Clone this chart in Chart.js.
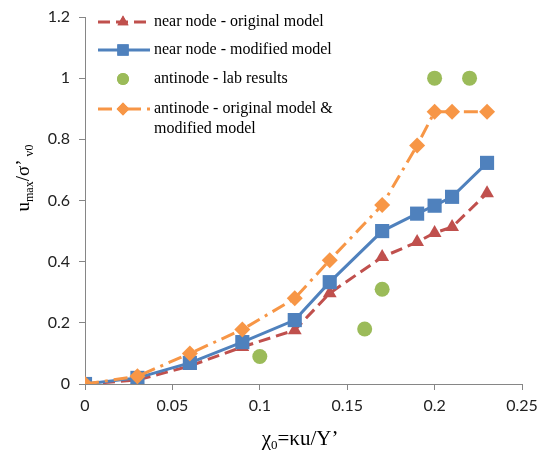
<!DOCTYPE html>
<html>
<head>
<meta charset="utf-8">
<script src="https://cdn.jsdelivr.net/npm/chart.js@4"></script>
<style>
  html, body { margin: 0; padding: 0; background: #fff; }
  #wrap { width: 541px; height: 452px; }
</style>
</head>
<body>
<div id="wrap"><canvas id="chart"></canvas></div>
<script>
// chi_0 values used by the model runs
const chi = [0, 0.03, 0.06, 0.09, 0.12, 0.14, 0.17, 0.19, 0.2, 0.21, 0.23];
const nearOriginal = [0, 0.013, 0.059, 0.121, 0.176, 0.297, 0.415, 0.464, 0.494, 0.513, 0.624];
const nearModified = [0, 0.02, 0.069, 0.137, 0.209, 0.333, 0.5, 0.557, 0.583, 0.612, 0.723];
const antinodeModel = [0, 0.025, 0.1, 0.178, 0.28, 0.405, 0.585, 0.78, 0.89, 0.89, 0.89];
// lab measurements at the antinode
const labChi = [0.1, 0.16, 0.17, 0.2, 0.22];
const labValues = [0.09, 0.18, 0.31, 1.0, 1.0];

const seriesNames = [
  'near node - original model',
  'near node - modified model',
  'antinode - lab results',
  ['antinode - original model &', 'modified model']
];

const RED = '#C0504D', BLUE = '#4F81BD', GREEN = '#9BBB59', ORANGE = '#F79646';
const AXIS = '#868686';

const pts = (xs, ys) => xs.map((x, i) => ({ x: x, y: ys[i] }));
const plain = v => String(+Number(v).toFixed(2));

const datasets = [
  {
    label: seriesNames[0], data: pts(chi, nearOriginal),
    borderColor: RED, backgroundColor: RED, borderWidth: 3, borderDash: [12, 6],
    pointStyle: 'triangle', pointRadius: 8, pointBorderWidth: 0, order: 2
  },
  {
    label: seriesNames[1], data: pts(chi, nearModified),
    borderColor: BLUE, backgroundColor: BLUE, borderWidth: 3,
    pointStyle: 'rect', pointRadius: 10, pointBorderWidth: 0, order: 1
  },
  {
    label: seriesNames[2], data: pts(labChi, labValues),
    borderColor: GREEN, backgroundColor: GREEN, showLine: false,
    pointStyle: 'circle', pointRadius: 7.5, pointBorderWidth: 0, order: 3
  },
  {
    label: seriesNames[3].join(' '), data: pts(chi, antinodeModel),
    borderColor: ORANGE, backgroundColor: ORANGE, borderWidth: 3, borderDash: [14, 6, 3, 6],
    pointStyle: 'rectRot', pointRadius: 8, pointBorderWidth: 0, order: 0
  }
];

// legend sits inside the plot, top left, with line + marker samples
const insideLegend = {
  id: 'insideLegend',
  afterDraw(chart) {
    const ctx = chart.ctx;
    const rows = [22, 50, 79, 109];
    const x0 = 98, x1 = 150, xm = 123, tx = 154;
    ctx.save();
    datasets.forEach((ds, i) => {
      const y = rows[i];
      if (ds.showLine !== false) {
        ctx.beginPath();
        ctx.setLineDash(ds.borderDash || []);
        ctx.strokeStyle = ds.borderColor;
        ctx.lineWidth = ds.borderWidth;
        ctx.moveTo(x0, y);
        ctx.lineTo(x1, y);
        ctx.stroke();
        ctx.setLineDash([]);
      }
      ctx.fillStyle = ds.backgroundColor;
      Chart.helpers.drawPoint(ctx, { pointStyle: ds.pointStyle, radius: ds.pointRadius * 0.8, borderWidth: 0 }, xm, y);
      ctx.fill();
      ctx.fillStyle = '#000';
      ctx.font = '16px "Liberation Serif", "Times New Roman", serif';
      ctx.textBaseline = 'middle';
      ctx.textAlign = 'left';
      const lines = Array.isArray(seriesNames[i]) ? seriesNames[i] : [seriesNames[i]];
      lines.forEach((t, j) => ctx.fillText(t, tx, y + j * 20));
    });
    ctx.restore();
  }
};

// draws a run of text pieces, some of them as subscripts
function drawPieces(ctx, pieces, x, y) {
  let cx = x;
  pieces.forEach(p => {
    ctx.font = p.size + 'px "Liberation Serif", "Times New Roman", serif';
    ctx.fillText(p.t, cx, y + (p.dy || 0));
    cx += ctx.measureText(p.t).width;
  });
}
function piecesWidth(ctx, pieces) {
  let w = 0;
  pieces.forEach(p => {
    ctx.font = p.size + 'px "Liberation Serif", "Times New Roman", serif';
    w += ctx.measureText(p.t).width;
  });
  return w;
}

const axisTitles = {
  id: 'axisTitles',
  afterDraw(chart) {
    const ctx = chart.ctx;
    ctx.save();
    ctx.fillStyle = '#000';
    ctx.textBaseline = 'alphabetic';
    ctx.textAlign = 'left';

    const xt = [
      { t: 'χ', size: 21 }, { t: '0', size: 13, dy: 4 },
      { t: '=κu/Y’', size: 21 }
    ];
    const xw = piecesWidth(ctx, xt);
    drawPieces(ctx, xt, 300 - xw / 2, 445);

    const yt = [
      { t: 'u', size: 19 }, { t: 'max', size: 12, dy: 4 },
      { t: '/σ’', size: 19 }, { t: ' v0', size: 12, dy: 4 }
    ];
    const yw = piecesWidth(ctx, yt);
    ctx.translate(29, 178);
    ctx.rotate(-Math.PI / 2);
    drawPieces(ctx, yt, -yw / 2, 0);
    ctx.restore();
  }
};

new Chart(document.getElementById('chart'), {
  type: 'line',
  data: { datasets: datasets },
  options: {
    responsive: true,
    maintainAspectRatio: false,
    animation: false,
    layout: { padding: { top: 17, right: 19, left: 0, bottom: 0 } },
    plugins: { legend: { display: false }, tooltip: { enabled: false } },
    scales: {
      x: {
        type: 'linear', min: 0, max: 0.25,
        ticks: { stepSize: 0.05, color: '#222', font: { family: 'Lato', size: 16 }, padding: 6, maxRotation: 0, callback: plain },
        grid: { display: true, drawOnChartArea: false, drawTicks: true, tickLength: 6, color: AXIS },
        border: { color: AXIS, width: 1 },
        afterFit(s) { s.height = 68; s.paddingLeft = 0; s.paddingRight = 0; }
      },
      y: {
        min: 0, max: 1.2,
        ticks: { stepSize: 0.2, color: '#222', font: { family: 'Lato', size: 16 }, padding: 9, callback: plain },
        grid: { display: true, drawOnChartArea: false, drawTicks: true, tickLength: 6, color: AXIS },
        border: { color: AXIS, width: 1 },
        afterFit(s) { s.width = 85; s.paddingTop = 0; s.paddingBottom = 0; }
      }
    }
  },
  plugins: [insideLegend, axisTitles]
});
</script>
</body>
</html>
